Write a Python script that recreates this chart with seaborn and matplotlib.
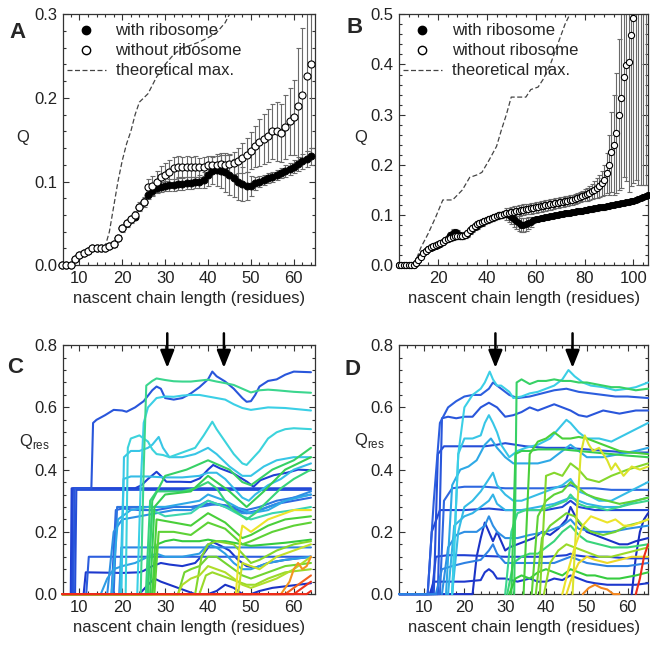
"""
Cotranslational folding figure: Q and per-residue Q_res vs nascent chain length
"""

import numpy as np
import pandas as pd
import matplotlib
matplotlib.use('Agg')
import matplotlib.pyplot as plt
import seaborn as sns
from matplotlib.colors import LinearSegmentedColormap
from matplotlib.lines import Line2D
from matplotlib.ticker import MultipleLocator

sns.set_style('ticks')
plt.rcParams['font.family'] = ['Liberation Sans', 'DejaVu Sans']
plt.rcParams['font.size'] = 12

# ---------------- Panel A data (chain lengths 6..64) ----------------
a_len = np.arange(6, 65)
a_without = [0, 0, 0, 0.007, 0.012, 0.015, 0.017, 0.02, 0.021, 0.021,
             0.021, 0.023, 0.025, 0.033, 0.044, 0.05, 0.055, 0.06, 0.07, 0.075,
             0.093, 0.095, 0.1, 0.105, 0.108, 0.112, 0.116, 0.118, 0.117, 0.118,
             0.117, 0.118, 0.117, 0.118, 0.12, 0.12, 0.12, 0.121, 0.12, 0.121,
             0.122, 0.125, 0.128, 0.132, 0.137, 0.142, 0.147, 0.151, 0.155, 0.16,
             0.16, 0.158, 0.165, 0.172, 0.177, 0.19, 0.204, 0.226, 0.24]
a_without_err = [0.001, 0.001, 0.001, 0.001, 0.001, 0.001, 0.001, 0.001, 0.001, 0.001,
                 0.002, 0.002, 0.003, 0.003, 0.004, 0.004, 0.004, 0.005, 0.005, 0.006,
                 0.01, 0.012, 0.013, 0.014, 0.014, 0.014, 0.013, 0.012, 0.012, 0.012,
                 0.012, 0.012, 0.011, 0.011, 0.01, 0.01, 0.01, 0.011, 0.012, 0.012,
                 0.013, 0.015, 0.018, 0.02, 0.022, 0.025, 0.028, 0.03, 0.032, 0.033,
                 0.035, 0.035, 0.038, 0.04, 0.045, 0.07, 0.08, 0.09, 0.1]
a_with = [0, 0, 0, 0.007, 0.012, 0.015, 0.017, 0.02, 0.021, 0.021,
          0.021, 0.023, 0.025, 0.033, 0.044, 0.05, 0.055, 0.058, 0.07, 0.076,
          0.084, 0.089, 0.092, 0.094, 0.095, 0.096, 0.096, 0.097, 0.097, 0.098,
          0.098, 0.099, 0.1, 0.102, 0.108, 0.113, 0.114, 0.113, 0.111, 0.108,
          0.104, 0.1, 0.097, 0.095, 0.095, 0.098, 0.1, 0.102, 0.104, 0.106,
          0.108, 0.11, 0.113, 0.115, 0.118, 0.121, 0.124, 0.127, 0.13]
a_with_err = [0.001, 0.001, 0.001, 0.001, 0.001, 0.001, 0.001, 0.001, 0.001, 0.001,
              0.001, 0.001, 0.001, 0.001, 0.001, 0.001, 0.001, 0.001, 0.003, 0.004,
              0.005, 0.005, 0.006, 0.006, 0.006, 0.007, 0.007, 0.007, 0.007, 0.007,
              0.007, 0.007, 0.008, 0.01, 0.013, 0.016, 0.019, 0.021, 0.023, 0.024,
              0.023, 0.022, 0.02, 0.017, 0.012, 0.008, 0.007, 0.006, 0.006, 0.006,
              0.006, 0.006, 0.007, 0.007, 0.008, 0.008, 0.009, 0.01, 0.01]
a_max_len = [14, 16, 17, 18, 19, 20, 21, 22, 23, 24, 25, 26, 27, 28, 29, 30,
             32, 34, 36, 38, 40, 42, 44, 45, 46]
a_max = [0.021, 0.022, 0.04, 0.07, 0.1, 0.125, 0.145, 0.16, 0.18, 0.195, 0.2,
         0.205, 0.215, 0.225, 0.232, 0.24, 0.252, 0.26, 0.263, 0.267, 0.272,
         0.278, 0.29, 0.3, 0.31]

# ---------------- Panel B data ----------------
b_len_with = np.arange(4, 107)
b_with = [0, 0, 0, 0, 0, 0, 0,
          0.005, 0.011, 0.018, 0.024, 0.029, 0.033, 0.035, 0.037, 0.039, 0.041,
          0.043, 0.046, 0.05, 0.055, 0.061, 0.065, 0.066, 0.064, 0.061, 0.059,
          0.06, 0.063, 0.068, 0.072, 0.076, 0.079, 0.082, 0.085, 0.088, 0.09,
          0.092, 0.094, 0.096, 0.098, 0.1, 0.101, 0.102, 0.102, 0.1, 0.097,
          0.092, 0.088, 0.084, 0.081, 0.08, 0.082, 0.085, 0.087, 0.09, 0.092,
          0.093, 0.094, 0.095, 0.096, 0.097, 0.098, 0.099, 0.1, 0.101, 0.102,
          0.103, 0.104, 0.104, 0.105, 0.106, 0.107, 0.108, 0.108, 0.109, 0.11,
          0.111, 0.112, 0.112, 0.113, 0.114, 0.115, 0.115, 0.116, 0.117, 0.118,
          0.119, 0.12, 0.121, 0.122, 0.123, 0.124, 0.125, 0.126, 0.127, 0.128,
          0.13, 0.132, 0.134, 0.136, 0.138, 0.14]
b_with_err = [0.002, 0.002, 0.002, 0.002, 0.002, 0.002, 0.002,
              0.002, 0.002, 0.002, 0.002, 0.002, 0.002, 0.002, 0.002, 0.002, 0.002,
              0.002, 0.002, 0.002, 0.002, 0.006, 0.007, 0.007, 0.007, 0.006, 0.006,
              0.006, 0.006, 0.006, 0.006, 0.006, 0.006, 0.006, 0.006, 0.006, 0.006,
              0.006, 0.006, 0.006, 0.006, 0.006, 0.006, 0.006, 0.012, 0.014, 0.014,
              0.015, 0.015, 0.015, 0.014, 0.014, 0.013, 0.012, 0.01, 0.006, 0.005,
              0.005, 0.005, 0.005, 0.005, 0.005, 0.005, 0.005, 0.005, 0.005, 0.005,
              0.005, 0.005, 0.005, 0.005, 0.005, 0.005, 0.005, 0.005, 0.005, 0.005,
              0.005, 0.005, 0.005, 0.005, 0.005, 0.005, 0.005, 0.005, 0.005, 0.005,
              0.005, 0.005, 0.005, 0.005, 0.005, 0.005, 0.005, 0.005, 0.005, 0.005,
              0.005, 0.005, 0.005, 0.005, 0.005, 0.005]
b_len_without = np.arange(4, 106)
b_without = [0, 0, 0, 0, 0, 0, 0,
             0.004, 0.01, 0.017, 0.024, 0.029, 0.033, 0.036, 0.038, 0.04, 0.042,
             0.044, 0.047, 0.05, 0.053, 0.055, 0.057, 0.058, 0.058, 0.058, 0.059,
             0.061, 0.065, 0.07, 0.075, 0.079, 0.082, 0.084, 0.086, 0.088, 0.09,
             0.092, 0.094, 0.096, 0.098, 0.1, 0.101, 0.103, 0.104, 0.105, 0.106,
             0.107, 0.108, 0.109, 0.11, 0.111, 0.112, 0.112, 0.113, 0.114, 0.115,
             0.116, 0.117, 0.118, 0.119, 0.12, 0.121, 0.122, 0.123, 0.124, 0.125,
             0.126, 0.127, 0.128, 0.129, 0.13, 0.131, 0.133, 0.135, 0.137, 0.139,
             0.141, 0.144, 0.147, 0.15, 0.154, 0.158, 0.163, 0.17, 0.183, 0.2,
             0.225, 0.24, 0.263, 0.3, 0.333, 0.375, 0.398, 0.405, 0.458, 0.493,
             0.53, 0.56, 0.6, 0.63, 0.66]
b_without_err = [0.002, 0.002, 0.002, 0.002, 0.002, 0.002, 0.002,
                 0.002, 0.002, 0.002, 0.002, 0.002, 0.002, 0.002, 0.002, 0.002, 0.002,
                 0.002, 0.002, 0.002, 0.002, 0.006, 0.006, 0.006, 0.006, 0.006, 0.006,
                 0.006, 0.006, 0.006, 0.006, 0.006, 0.006, 0.006, 0.006, 0.006, 0.006,
                 0.006, 0.006, 0.006, 0.006, 0.006, 0.006, 0.006, 0.006, 0.006, 0.01,
                 0.01, 0.01, 0.01, 0.01, 0.01, 0.01, 0.01, 0.01, 0.01, 0.01,
                 0.01, 0.01, 0.01, 0.01, 0.01, 0.01, 0.01, 0.01, 0.01, 0.01,
                 0.01, 0.01, 0.01, 0.01, 0.01, 0.01, 0.01, 0.01, 0.01, 0.012,
                 0.013, 0.014, 0.015, 0.017, 0.02, 0.022, 0.025, 0.03, 0.04, 0.06,
                 0.08, 0.1, 0.12, 0.15, 0.18, 0.2, 0.23, 0.26, 0.3, 0.33,
                 0.36, 0.4, 0.44, 0.47, 0.5]
b_max_len = [4, 10, 11, 13, 16, 19, 22, 26, 27, 30, 33, 36, 38, 41, 44, 46, 48,
             50, 56, 58, 61, 63, 66, 69, 72, 74, 76]
b_max = [0, 0, 0.01, 0.035, 0.063, 0.095, 0.13, 0.13, 0.135, 0.15, 0.175, 0.18,
         0.185, 0.21, 0.237, 0.27, 0.3, 0.335, 0.335, 0.35, 0.355, 0.37, 0.4,
         0.44, 0.48, 0.5, 0.53]

# ---------------- Panel C: Q_res traces (residue, chain length, Q_res) ----------------
c_res = [9, 10, 11, 28, 22, 23, 21, 8, 20, 30, 31, 13, 14, 16, 33, 34, 26, 15, 12,
         7, 6, 36, 35, 37, 32, 41, 39, 48, 52, 56, 58, 29, 17, 18, 38]
c_x = [
    [6, 8.3, 8.5, 64],
    [6, 9.0, 9.3, 64],
    [6, 8.6, 8.9, 12.8, 13.2, 14, 16, 18, 20, 21, 23, 25, 27, 28, 29, 30, 32, 34, 36,
     38, 40, 41, 42, 44, 46, 48, 49, 50, 51, 52, 54, 56, 58, 60, 64],
    [6, 24.3, 25.0, 25.6, 27, 28, 30, 32, 34, 36, 38, 40, 42, 44, 46, 48, 50, 52, 54,
     56, 60, 64],
    [6, 23.5, 24.3, 25, 26, 28, 30, 32, 34, 36, 38, 40, 42, 44, 46, 48, 50, 54, 58, 64],
    [6, 20.8, 21.3, 22, 24, 26, 27, 28, 29.5, 31, 33, 35, 37, 39, 41, 42, 44, 46, 48,
     49, 50, 52, 54, 56, 58, 60, 64],
    [6, 19.8, 20.4, 22, 24, 26, 27, 28.5, 29.5, 31, 34, 37, 40, 42, 45, 48, 50, 53,
     56, 60, 64],
    [6, 8.0, 8.2, 23, 24.5, 26, 28, 29, 30.3, 33.4, 36, 38.1, 40, 41.2, 42.8, 45.9,
     49.1, 50.6, 52.2, 55.3, 58.4, 61, 64],
    [6, 19.5, 20.3, 22, 26, 30, 34, 38, 40, 42, 44, 46, 48, 49.5, 51, 54, 57, 60, 64],
    [6, 26, 27, 30, 35, 40, 45, 48, 50, 55, 60, 64],
    [6, 26.5, 27.5, 30, 36, 40, 45, 49, 53, 58, 64],
    [6, 17.5, 18.5, 20, 24, 28, 32, 36, 40, 44, 47, 49, 52, 56, 60, 64],
    [6, 18, 18.8, 22, 26, 30, 34, 38, 40, 42, 46, 49, 52, 56, 60, 64],
    [6, 16.5, 18, 20, 24, 28, 32, 36, 40, 44, 48, 50, 54, 58, 64],
    [6, 27, 28, 32, 36, 40, 44, 48, 50, 54, 58, 64],
    [6, 27.5, 28.5, 32, 36, 40, 44, 48, 50, 55, 60, 64],
    [6, 25.8, 27, 30, 36, 40, 44, 48, 50, 55, 60, 64],
    [6, 19.3, 19.8, 64],
    [6, 11.6, 12.2, 64],
    [6, 11, 11.5, 20, 24, 25, 27, 29, 31, 34, 37, 39, 41, 43, 45, 47, 49, 51, 54, 58, 64],
    [6, 24, 26, 27.5, 29, 31, 33, 35, 37, 38, 40, 42, 44, 46, 48, 50, 52, 55, 58, 61, 64],
    [6, 37, 38.5, 40, 42, 44, 46, 48, 50, 52, 56, 60, 64],
    [6, 33, 34.5, 36, 38, 40, 42, 44, 46, 48, 50, 54, 58, 64],
    [6, 38, 39.5, 41, 43, 45, 47, 49, 51, 54, 58, 64],
    [6, 27, 28.2, 30, 32, 34, 36, 38, 40, 42, 44, 46, 48, 50, 54, 58, 64],
    [6, 46.5, 47.5, 48, 49, 50, 52, 54, 56, 58, 60, 64],
    [6, 47, 48, 50, 52, 54, 56, 60, 64],
    [6, 57, 59, 60, 61, 62, 63, 64],
    [6, 58, 60, 62, 63, 64],
    [6, 60, 61, 62, 63, 64],
    [6, 63, 64],
    [6, 25.5, 26.5, 28, 31, 34, 37, 40, 42, 44, 46, 48, 49, 51, 54, 57, 60, 64],
    [6, 15, 16.5, 18, 20, 23, 26, 28, 30, 34, 38, 40, 42, 44, 46, 48, 50, 54, 58, 64],
    [6, 17.5, 19, 22, 26, 30, 34, 38, 40, 44, 48, 50, 54, 58, 64],
    [6, 33, 34, 36, 38, 40, 42, 44, 46, 48, 50, 52, 56, 60, 64],
]
c_y = [
    [0, 0, 0.34, 0.34],
    [0, 0, 0.335, 0.335],
    [0, 0, 0.34, 0.34, 0.55, 0.56, 0.575, 0.592, 0.59, 0.586, 0.6, 0.62, 0.655, 0.667,
     0.66, 0.63, 0.625, 0.63, 0.645, 0.665, 0.69, 0.715, 0.7, 0.683, 0.66, 0.63, 0.618,
     0.62, 0.64, 0.667, 0.685, 0.69, 0.705, 0.715, 0.713],
    [0, 0, 0.4, 0.67, 0.685, 0.693, 0.688, 0.684, 0.683, 0.683, 0.686, 0.689, 0.683,
     0.678, 0.672, 0.66, 0.648, 0.655, 0.657, 0.655, 0.65, 0.647],
    [0, 0, 0.35, 0.55, 0.6, 0.63, 0.635, 0.634, 0.638, 0.64, 0.64, 0.635, 0.63, 0.625,
     0.61, 0.598, 0.592, 0.6, 0.598, 0.59],
    [0, 0, 0.47, 0.5, 0.51, 0.49, 0.465, 0.45, 0.447, 0.44, 0.45, 0.46, 0.47, 0.51,
     0.554, 0.53, 0.49, 0.45, 0.42, 0.415, 0.43, 0.46, 0.5, 0.52, 0.53, 0.533, 0.53],
    [0, 0, 0.44, 0.46, 0.46, 0.47, 0.48, 0.505, 0.47, 0.44, 0.44, 0.45, 0.47, 0.45,
     0.41, 0.38, 0.38, 0.41, 0.43, 0.44, 0.44],
    [0, 0, 0.34, 0.34, 0.35, 0.37, 0.393, 0.38, 0.361, 0.361, 0.36, 0.372, 0.4, 0.415,
     0.404, 0.388, 0.361, 0.345, 0.366, 0.382, 0.39, 0.4, 0.398],
    [0, 0, 0.37, 0.378, 0.378, 0.375, 0.375, 0.38, 0.39, 0.39, 0.37, 0.34, 0.31, 0.3,
     0.32, 0.35, 0.37, 0.4, 0.42],
    [0, 0, 0.3, 0.38, 0.4, 0.43, 0.4, 0.36, 0.35, 0.4, 0.43, 0.47],
    [0, 0, 0.28, 0.32, 0.33, 0.38, 0.33, 0.28, 0.33, 0.4, 0.44],
    [0, 0, 0.27, 0.275, 0.27, 0.27, 0.28, 0.28, 0.29, 0.285, 0.27, 0.26, 0.27, 0.29,
     0.3, 0.31],
    [0, 0, 0.28, 0.28, 0.28, 0.28, 0.28, 0.28, 0.285, 0.29, 0.28, 0.27, 0.28, 0.3,
     0.31, 0.32],
    [0, 0, 0.2, 0.24, 0.25, 0.26, 0.27, 0.27, 0.3, 0.28, 0.26, 0.26, 0.28, 0.3, 0.33],
    [0, 0, 0.24, 0.23, 0.22, 0.26, 0.23, 0.18, 0.19, 0.22, 0.24, 0.25],
    [0, 0, 0.2, 0.2, 0.19, 0.23, 0.21, 0.16, 0.17, 0.2, 0.22, 0.23],
    [0, 0, 0.27, 0.25, 0.26, 0.3, 0.28, 0.25, 0.24, 0.26, 0.27, 0.28],
    [0, 0, 0.15, 0.15],
    [0, 0, 0.12, 0.12],
    [0, 0, 0.07, 0.068, 0.07, 0.075, 0.09, 0.1, 0.095, 0.09, 0.1, 0.13, 0.168, 0.155,
     0.14, 0.11, 0.09, 0.085, 0.1, 0.11, 0.12],
    [0, 0, 0.03, 0.05, 0.04, 0.03, 0.02, 0.01, 0.0, 0.0, 0.0, 0.01, 0.03, 0.02, 0.0,
     0.0, 0.01, 0.02, 0.025, 0.03, 0.035],
    [0, 0, 0.12, 0.16, 0.17, 0.165, 0.16, 0.13, 0.1, 0.11, 0.14, 0.16, 0.17],
    [0, 0, 0.07, 0.08, 0.09, 0.12, 0.12, 0.1, 0.08, 0.06, 0.05, 0.07, 0.09, 0.1],
    [0, 0, 0.06, 0.07, 0.06, 0.05, 0.04, 0.03, 0.03, 0.05, 0.07, 0.08],
    [0, 0, 0.16, 0.17, 0.175, 0.17, 0.17, 0.17, 0.175, 0.17, 0.17, 0.165, 0.16, 0.155,
     0.16, 0.165, 0.175],
    [0, 0, 0.18, 0.22, 0.21, 0.2, 0.22, 0.24, 0.25, 0.26, 0.27, 0.27],
    [0, 0, 0.1, 0.09, 0.08, 0.1, 0.12, 0.14, 0.16],
    [0, 0, 0.04, 0.08, 0.1, 0.08, 0.09, 0.12],
    [0, 0, 0.02, 0.04, 0.05, 0.06],
    [0, 0, 0.01, 0.02, 0.03, 0.04],
    [0, 0, 0.01],
    [0, 0, 0.3, 0.33, 0.33, 0.33, 0.34, 0.36, 0.34, 0.3, 0.27, 0.25, 0.24, 0.26, 0.3,
     0.34, 0.37, 0.4],
    [0, 0, 0.05, 0.08, 0.09, 0.1, 0.12, 0.13, 0.12, 0.12, 0.13, 0.16, 0.15, 0.13, 0.1,
     0.08, 0.08, 0.1, 0.11, 0.12],
    [0, 0, 0.24, 0.27, 0.28, 0.28, 0.29, 0.3, 0.32, 0.3, 0.27, 0.26, 0.27, 0.3, 0.32],
    [0, 0, 0.03, 0.05, 0.06, 0.09, 0.08, 0.07, 0.05, 0.03, 0.02, 0.03, 0.05, 0.08, 0.12],
]

# ---------------- Panel D: Q_res traces ----------------
d_res = [22, 12, 30, 11, 21, 10, 33, 31, 40, 20, 13, 9, 6, 8, 7, 18, 16, 19, 15,
         28, 29, 32, 34, 35, 37, 36, 41, 42, 49, 5, 58]
d_x = [
    [17, 18.5, 20, 22, 24, 25, 26.2, 27, 28, 29, 30, 31, 32, 34, 36, 38, 40, 42, 44,
     45.5, 47, 49, 51, 54, 57, 60, 62, 65],
    [4, 11, 12.5, 14, 16, 18, 20, 22, 24, 26, 27, 29, 31, 33, 36, 39, 42, 45, 48, 51,
     54, 57, 60, 65],
    [32.2, 32.8, 34, 36, 38, 40, 42, 44, 46, 48, 50, 52, 54, 56, 58, 60, 62, 65],
    [4, 13.5, 14.5, 16, 18, 20, 22, 24, 26, 28, 30, 32, 34, 36, 38, 40, 42, 44, 46,
     48, 50, 52, 54, 56, 58, 60, 62, 65],
    [17, 18.5, 20, 22, 24, 25, 26, 27, 28, 29, 30, 31, 33, 35, 38, 41, 43, 45, 46, 48,
     50, 53, 56, 59, 62, 65],
    [4, 12.5, 13.5, 15, 20, 25, 28, 30, 35, 40, 45, 50, 55, 60, 65],
    [34.5, 35.5, 36, 38, 40, 42, 44, 46, 48, 50, 52, 55, 58, 61, 65],
    [31.5, 32.5, 34, 36, 38, 40, 44, 48, 52, 56, 60, 65],
    [46.5, 47.5, 48.5, 49.5, 50.5, 51.5, 53, 55, 56, 57, 59, 61, 63, 65],
    [17, 18.5, 20, 22, 24, 26, 27, 28, 30, 32, 34, 36, 38, 40, 42, 44, 46, 48, 50, 53,
     56, 59, 62, 65],
    [4, 14, 15, 17, 20, 25, 30, 35, 40, 44, 46, 48, 52, 56, 60, 65],
    [4, 11, 12, 14, 20, 26, 30, 36, 40, 44, 46, 48, 52, 58, 65],
    [4, 22, 23, 24, 25, 26, 27, 28, 29, 30, 31, 33, 35, 37, 39, 41, 43, 45, 46, 48, 50,
     52, 54, 56, 58, 60, 62, 65],
    [4, 12, 13, 16, 20, 30, 40, 45, 46, 47, 50, 55, 60, 65],
    [4, 11.5, 12.5, 16, 20, 24, 25, 26, 27, 28, 30, 33, 36, 38, 40, 42, 44, 46, 48, 50,
     52, 55, 58, 62, 65],
    [15.5, 17, 19, 21, 23, 25, 26.5, 28, 30, 32, 35, 38, 41, 44, 46, 48, 50, 54, 58,
     62, 65],
    [14.5, 16, 18, 20, 23, 25, 26, 27, 28, 30, 33, 36, 40, 44, 46, 48, 52, 56, 60, 65],
    [16, 17.5, 20, 22, 24, 26, 27, 28, 30, 34, 38, 42, 46, 50, 54, 58, 62, 65],
    [4, 13, 14.5, 17, 20, 24, 26, 27, 28, 30, 34, 38, 42, 46, 50, 55, 60, 65],
    [30, 31.5, 33, 35, 37, 39, 41, 43, 45, 46, 48, 50, 52, 55, 58, 61, 65],
    [30.5, 32, 34, 36, 38, 40, 42, 44, 46, 48, 50, 53, 56, 60, 65],
    [31, 32.5, 34, 36, 38, 40, 42, 44, 46, 48, 50, 52, 55, 58, 62, 65],
    [36.5, 38, 40, 42, 44, 46, 48, 50, 52, 55, 58, 62, 65],
    [37.5, 39, 41, 43, 45, 47, 49, 51, 54, 57, 60, 63, 65],
    [39.5, 41, 43, 45, 47, 49, 51, 53, 56, 59, 62, 65],
    [38.5, 40, 42, 44, 46, 48, 50, 53, 56, 60, 65],
    [44, 45.5, 47, 49, 51, 53, 55, 57, 59, 61, 63, 65],
    [45, 46.5, 48, 50, 52, 55, 58, 61, 65],
    [49, 50.5, 52, 53.5, 55, 56.5, 58],
    [61, 62, 63, 64, 65],
    [62, 63, 64, 65],
]
d_y = [
    [0, 0.45, 0.6, 0.64, 0.66, 0.68, 0.715, 0.69, 0.67, 0.67, 0.66, 0.65, 0.63, 0.635,
     0.645, 0.65, 0.66, 0.67, 0.69, 0.72, 0.7, 0.68, 0.67, 0.665, 0.655, 0.66, 0.665,
     0.68],
    [0, 0, 0.3, 0.55, 0.6, 0.62, 0.635, 0.64, 0.64, 0.66, 0.68, 0.66, 0.64, 0.63, 0.635,
     0.645, 0.655, 0.66, 0.65, 0.645, 0.64, 0.635, 0.635, 0.63],
    [0, 0.68, 0.69, 0.675, 0.685, 0.685, 0.69, 0.685, 0.685, 0.68, 0.68, 0.675, 0.67,
     0.665, 0.665, 0.66, 0.655, 0.66],
    [0, 0, 0.565, 0.57, 0.565, 0.57, 0.57, 0.6, 0.615, 0.6, 0.57, 0.575, 0.585, 0.6,
     0.59, 0.6, 0.61, 0.6, 0.59, 0.575, 0.57, 0.58, 0.59, 0.585, 0.58, 0.585, 0.59,
     0.59],
    [0, 0.45, 0.5, 0.5, 0.51, 0.55, 0.575, 0.55, 0.52, 0.48, 0.46, 0.44, 0.46, 0.47,
     0.48, 0.5, 0.53, 0.56, 0.55, 0.52, 0.5, 0.5, 0.49, 0.51, 0.53, 0.55],
    [0, 0, 0.45, 0.475, 0.475, 0.475, 0.48, 0.485, 0.475, 0.47, 0.47, 0.465, 0.46,
     0.455, 0.455],
    [0, 0.3, 0.45, 0.49, 0.5, 0.52, 0.5, 0.5, 0.505, 0.5, 0.49, 0.475, 0.46, 0.455,
     0.45],
    [0, 0.45, 0.46, 0.46, 0.465, 0.465, 0.465, 0.46, 0.455, 0.45, 0.445, 0.44],
    [0, 0.25, 0.45, 0.51, 0.48, 0.46, 0.47, 0.43, 0.4, 0.42, 0.38, 0.41, 0.4, 0.41],
    [0, 0.2, 0.28, 0.3, 0.33, 0.37, 0.39, 0.35, 0.32, 0.3, 0.3, 0.31, 0.32, 0.33, 0.34,
     0.35, 0.37, 0.33, 0.32, 0.3, 0.3, 0.32, 0.34, 0.36],
    [0, 0, 0.3, 0.34, 0.345, 0.345, 0.34, 0.34, 0.34, 0.345, 0.35, 0.34, 0.34, 0.335,
     0.335, 0.335],
    [0, 0, 0.2, 0.27, 0.27, 0.275, 0.27, 0.27, 0.27, 0.28, 0.3, 0.28, 0.27, 0.27, 0.27],
    [0, 0, 0.12, 0.18, 0.23, 0.2, 0.17, 0.2, 0.17, 0.14, 0.15, 0.16, 0.17, 0.18, 0.2,
     0.19, 0.21, 0.24, 0.28, 0.23, 0.2, 0.19, 0.18, 0.17, 0.16, 0.16, 0.17, 0.18],
    [0, 0, 0.12, 0.125, 0.125, 0.12, 0.12, 0.125, 0.13, 0.125, 0.12, 0.12, 0.115,
     0.115],
    [0, 0, 0.04, 0.04, 0.04, 0.045, 0.07, 0.08, 0.07, 0.05, 0.05, 0.04, 0.05, 0.04,
     0.04, 0.05, 0.045, 0.06, 0.05, 0.04, 0.035, 0.03, 0.03, 0.03, 0.035],
    [0, 0.35, 0.4, 0.41, 0.43, 0.48, 0.5, 0.47, 0.44, 0.42, 0.42, 0.42, 0.43, 0.46,
     0.48, 0.46, 0.44, 0.44, 0.45, 0.46, 0.47],
    [0, 0.15, 0.19, 0.2, 0.2, 0.22, 0.25, 0.22, 0.2, 0.18, 0.18, 0.19, 0.2, 0.22, 0.24,
     0.21, 0.2, 0.2, 0.21, 0.22],
    [0, 0.22, 0.25, 0.26, 0.28, 0.3, 0.32, 0.29, 0.27, 0.27, 0.28, 0.29, 0.31, 0.29,
     0.28, 0.28, 0.3, 0.31],
    [0, 0, 0.08, 0.09, 0.1, 0.11, 0.14, 0.16, 0.13, 0.1, 0.1, 0.1, 0.1, 0.12, 0.1,
     0.09, 0.09, 0.1],
    [0, 0.2, 0.26, 0.27, 0.27, 0.27, 0.28, 0.29, 0.3, 0.32, 0.29, 0.28, 0.28, 0.27,
     0.28, 0.29, 0.3],
    [0, 0.1, 0.12, 0.13, 0.13, 0.15, 0.17, 0.2, 0.22, 0.19, 0.17, 0.16, 0.15, 0.15,
     0.16],
    [0, 0.05, 0.06, 0.05, 0.07, 0.08, 0.07, 0.06, 0.08, 0.07, 0.06, 0.06, 0.05, 0.05,
     0.06, 0.07],
    [0, 0.25, 0.3, 0.32, 0.33, 0.36, 0.34, 0.32, 0.31, 0.3, 0.29, 0.3, 0.31],
    [0, 0.18, 0.22, 0.24, 0.26, 0.25, 0.22, 0.2, 0.19, 0.2, 0.22, 0.23, 0.24],
    [0, 0.1, 0.14, 0.16, 0.15, 0.14, 0.13, 0.12, 0.12, 0.13, 0.14, 0.15],
    [0, 0.38, 0.39, 0.38, 0.42, 0.4, 0.37, 0.36, 0.38, 0.4, 0.42],
    [0, 0.08, 0.15, 0.22, 0.25, 0.24, 0.23, 0.24, 0.22, 0.22, 0.23, 0.24],
    [0, 0.06, 0.1, 0.12, 0.11, 0.1, 0.11, 0.12, 0.12],
    [0, 0.02, 0.03, 0.02, 0.015, 0.0, 0.0],
    [0, 0.12, 0.2, 0.24, 0.26],
    [0, 0.05, 0.12, 0.16],
]

# Fractional positions on the 650 x 650 canvas
PANEL_POS = {
    'A': [0.097, 0.592, 0.388, 0.386],
    'B': [0.614, 0.592, 0.383, 0.386],
    'C': [0.097, 0.086, 0.388, 0.383],
    'D': [0.614, 0.086, 0.383, 0.383],
}
LETTER_POS = {'A': (0.027, 0.950), 'B': (0.546, 0.958),
              'C': (0.023, 0.435), 'D': (0.542, 0.432)}

# jet-like map, a bit more saturated in the greens like the figure
RES_CMAP = LinearSegmentedColormap.from_list('res_jet', [
    (0.00, '#10129a'), (0.12, '#1e3cd2'), (0.20, '#2e64e0'), (0.28, '#2ea8e6'),
    (0.35, '#3cd2e6'), (0.43, '#3cd89a'), (0.50, '#34cc40'), (0.57, '#8cd82a'),
    (0.64, '#ece62a'), (0.75, '#f4961e'), (0.86, '#f03a1e'), (1.00, '#e81010'),
])


def style_axis(ax, xmaj, xmin, ymaj, ymin, spine_z=2.5):
    """Box frame with inward ticks on all four sides."""
    ax.xaxis.set_major_locator(MultipleLocator(xmaj))
    ax.xaxis.set_minor_locator(MultipleLocator(xmin))
    ax.yaxis.set_major_locator(MultipleLocator(ymaj))
    ax.yaxis.set_minor_locator(MultipleLocator(ymin))
    ax.tick_params(which='both', direction='in', top=True, right=True,
                   labelsize=12, width=0.8, colors='#333333', labelcolor='#222222')
    ax.tick_params(which='major', length=4, pad=4)
    ax.tick_params(which='minor', length=2)
    for s in ax.spines.values():
        s.set_linewidth(0.9)
        s.set_color('#333333')
        s.set_zorder(spine_z)
    ax.set_xlabel('nascent chain length (residues)', fontsize=12, labelpad=4)


def plot_q_panel(ax, len_with, q_with, err_with, len_without, q_without,
                 err_without, max_len, q_max, msize):
    """Average Q with and without ribosome, plus theoretical maximum."""
    ax.errorbar(len_with, q_with, yerr=err_with, fmt='none', ecolor='#6a6a6a',
                elinewidth=0.8, capsize=1.8, capthick=0.8, zorder=1)
    ax.errorbar(len_without, q_without, yerr=err_without, fmt='none',
                ecolor='#6a6a6a', elinewidth=0.8, capsize=1.8, capthick=0.8, zorder=1)
    sns.lineplot(x=max_len, y=q_max, ax=ax, color='#444444', lw=0.9,
                 linestyle=(0, (4, 2)), zorder=2)
    sns.scatterplot(x=len_with, y=q_with, ax=ax, s=msize, color='black',
                    edgecolor='black', linewidth=0.6, zorder=3, clip_on=False)
    vis = np.asarray(q_without) <= ax.get_ylim()[1]
    sns.scatterplot(x=np.asarray(len_without)[vis], y=np.asarray(q_without)[vis],
                    ax=ax, s=msize, facecolor='white', edgecolor='black',
                    linewidth=0.8, zorder=4, clip_on=False)
    handles = [
        Line2D([], [], marker='o', ls='none', mfc='black', mec='black', ms=6),
        Line2D([], [], marker='o', ls='none', mfc='white', mec='black', ms=6),
        Line2D([], [], color='#444444', lw=0.9, ls=(0, (4, 2))),
    ]
    ax.legend(handles, ['with ribosome', 'without ribosome', 'theoretical max.'],
              loc='upper left', frameon=False, fontsize=12, handlelength=2.3,
              handletextpad=0.6, labelspacing=0.3, borderaxespad=0.15,
              bbox_to_anchor=(-0.02, 1.0))
    ax.set_ylabel('Q', fontsize=12, rotation=0, va='center', ha='center')


def plot_qres_panel(ax, res_ids, xs, ys):
    """Per-residue Q_res traces coloured by residue position."""
    rows = []
    for r, xv, yv in zip(res_ids, xs, ys):
        for x, y in zip(xv, yv):
            rows.append((r, x, y))
    df = pd.DataFrame(rows, columns=['residue', 'length', 'qres'])
    df = df.sort_values('residue', kind='stable')
    sns.lineplot(data=df, x='length', y='qres', hue='residue', units='residue',
                 estimator=None, sort=False, palette=RES_CMAP, hue_norm=(0, 64),
                 legend=False, lw=1.5, ax=ax, clip_on=False)
    # later residues on top, all traces above the frame
    for line in ax.get_lines():
        line.set_zorder(3)
    ax.set_ylabel('Q$_{\\mathregular{res}}$', fontsize=12, rotation=0,
                  va='center', ha='center')


def add_arrows(ax, positions):
    for x in positions:
        ax.annotate('', xy=(x, 0.727), xytext=(x, 0.838), xycoords='data',
                    annotation_clip=False,
                    arrowprops=dict(arrowstyle='-|>,head_width=0.3,head_length=0.75',
                                    color='black', lw=1.8, mutation_scale=14,
                                    shrinkA=0, shrinkB=0))


fig = plt.figure(figsize=(6.5, 6.5), dpi=100)
axA = fig.add_axes(PANEL_POS['A'])
axB = fig.add_axes(PANEL_POS['B'])
axC = fig.add_axes(PANEL_POS['C'])
axD = fig.add_axes(PANEL_POS['D'])

# Panel A
axA.set_xlim(6.2, 65)
axA.set_ylim(0, 0.3)
plot_q_panel(axA, a_len, a_with, a_with_err, a_len, a_without, a_without_err,
             a_max_len, a_max, 26)
axA.set_xlim(6.2, 65)
axA.set_ylim(0, 0.3)
style_axis(axA, 10, 2, 0.1, 0.02)
axA.yaxis.set_label_coords(-0.16, 0.51)

# Panel B
axB.set_xlim(4.1, 106)
axB.set_ylim(0, 0.5)
plot_q_panel(axB, b_len_with, b_with, b_with_err, b_len_without, b_without,
             b_without_err, b_max_len, b_max, 20)
axB.set_xlim(4.1, 106)
axB.set_ylim(0, 0.5)
style_axis(axB, 20, 4, 0.1, 0.02)
axB.yaxis.set_label_coords(-0.153, 0.51)

# Panel C
plot_qres_panel(axC, c_res, c_x, c_y)
axC.set_xlim(6.2, 65)
axC.set_ylim(0, 0.8)
style_axis(axC, 10, 2, 0.2, 0.04, spine_z=1)
axC.yaxis.set_label_coords(-0.112, 0.614)
add_arrows(axC, [30.5, 43.7])

# Panel D
plot_qres_panel(axD, d_res, d_x, d_y)
axD.set_xlim(4, 65)
axD.set_ylim(0, 0.8)
style_axis(axD, 10, 2, 0.2, 0.04, spine_z=1)
axD.yaxis.set_label_coords(-0.117, 0.618)
add_arrows(axD, [27.6, 46.5])

for ax in (axA, axB, axC, axD):
    ax.yaxis.set_major_formatter(plt.FormatStrFormatter('%.1f'))

for key, (lx, ly) in LETTER_POS.items():
    fig.text(lx, ly, key, fontsize=16, fontweight='bold', ha='center', va='center')

fig.savefig('out.png', dpi=100)
